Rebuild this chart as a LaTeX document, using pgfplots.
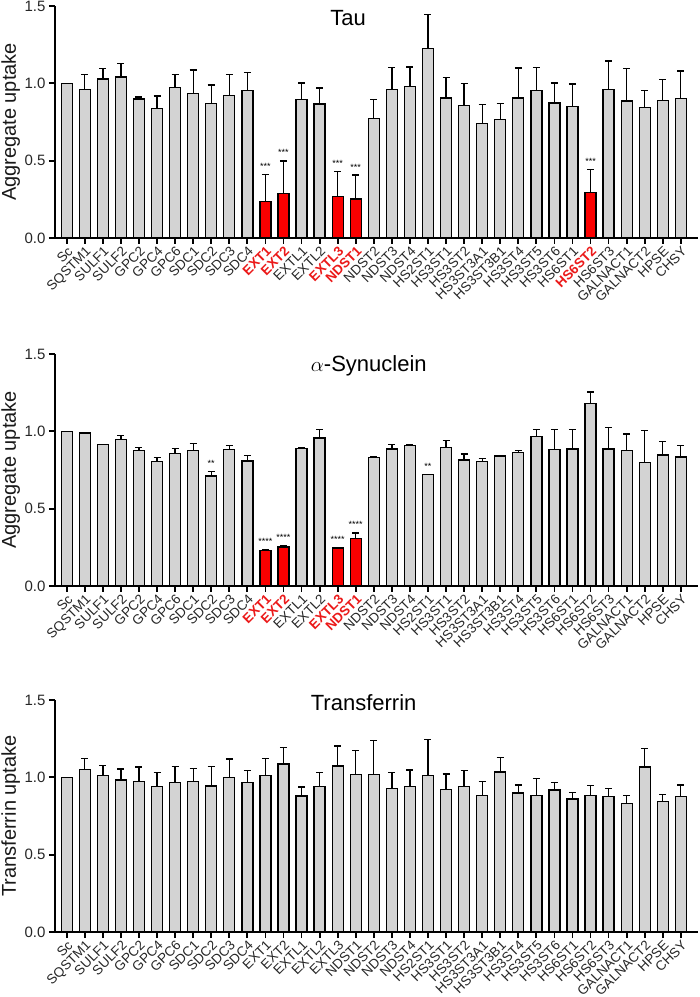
\documentclass[border=0pt]{standalone}
\usepackage{pgfplots}
\pgfplotsset{compat=1.18}
\usepackage{pgfplotstable}
\usepackage{fontspec}
\setmainfont{Liberation Sans}

\definecolor{bargray}{RGB}{211,211,211}
\definecolor{barred}{RGB}{250,0,0}
\definecolor{labred}{RGB}{235,25,25}

% ---- Tau ----
\pgfplotstableread{
x y err
0 1.000 0
1 0.961 0.097
2 1.028 0.069
3 1.041 0.088
4 0.899 0.013
5 0.838 0.080
6 0.972 0.084
7 0.933 0.153
8 0.869 0.120
9 0.922 0.134
10 0.953 0.118
13 0.897 0.105
14 0.866 0.104
17 0.774 0.120
18 0.959 0.142
19 0.981 0.125
20 1.224 0.222
21 0.905 0.134
22 0.858 0.142
23 0.741 0.123
24 0.765 0.106
25 0.905 0.194
26 0.953 0.150
27 0.873 0.129
28 0.849 0.147
30 0.959 0.185
31 0.886 0.211
32 0.845 0.108
33 0.888 0.138
34 0.903 0.177
}\tauGray
\pgfplotstableread{
x y err
11 0.235 0.177
12 0.287 0.211
15 0.267 0.162
16 0.252 0.155
29 0.293 0.149
}\tauRed
\pgfplotstableread{
x top lab
11 0.412 ***
12 0.498 ***
15 0.429 ***
16 0.407 ***
29 0.442 ***
}\tauStars

% ---- alpha-synuclein ----
\pgfplotstableread{
x y err
0 1.000 0
1 0.989 0.003
2 0.913 0
3 0.945 0.026
4 0.876 0.020
5 0.803 0.026
6 0.857 0.030
7 0.876 0.046
8 0.712 0.030
9 0.883 0.024
10 0.809 0.035
13 0.887 0.007
14 0.956 0.054
17 0.831 0.006
18 0.885 0.028
19 0.909 0.006
20 0.719 0.003
21 0.896 0.045
22 0.814 0.039
23 0.807 0.018
24 0.840 0.002
25 0.863 0.013
26 0.965 0.047
27 0.883 0.129
28 0.885 0.127
29 1.181 0.073
30 0.885 0.142
31 0.874 0.108
32 0.799 0.205
33 0.846 0.086
34 0.835 0.074
}\synGray
\pgfplotstableread{
x y err
11 0.229 0.004
12 0.253 0.006
15 0.246 0.004
16 0.309 0.034
}\synRed
\pgfplotstableread{
x top lab
8 0.742 **
11 0.233 ****
12 0.259 ****
15 0.250 ****
16 0.343 ****
20 0.722 **
}\synStars

% ---- Transferrin ----
\pgfplotstableread{
x y err
0 1.000 0
1 1.052 0.069
2 1.011 0.065
3 0.983 0.071
4 0.972 0.095
5 0.942 0.088
6 0.968 0.101
7 0.972 0.084
8 0.944 0.125
9 0.998 0.121
10 0.968 0.077
11 1.011 0.110
12 1.087 0.108
13 0.879 0.058
14 0.942 0.088
15 1.074 0.129
16 1.017 0.158
17 1.017 0.221
18 0.929 0.103
19 0.942 0.106
20 1.011 0.234
21 0.922 0.100
22 0.942 0.103
23 0.883 0.089
24 1.035 0.093
25 0.898 0.052
26 0.881 0.110
27 0.918 0.047
28 0.859 0.041
29 0.881 0.067
30 0.874 0.052
31 0.831 0.052
32 1.067 0.119
33 0.842 0.045
34 0.877 0.073
}\trfGray

\pgfplotsset{
  panel/.style={
    scale only axis, width=643pt, height=232pt,
    xmin=-0.65, xmax=34.95, ymin=0, ymax=1.5,
    axis x line*=bottom, axis y line*=left,
    axis line style={-, line width=1.8pt, black},
    tick align=outside, major tick length=6pt,
    tick style={line width=1.8pt, black},
    xtick={0,...,34},
    ytick={0,0.5,1,1.5},
    /pgf/number format/assume math mode=true,
    yticklabel style={/pgf/number format/fixed, /pgf/number format/fixed zerofill,
      /pgf/number format/precision=1},
    yticklabel style={font=\fontsize{15}{16}\selectfont, text=black!85},
    xticklabel style={rotate=45, anchor=north east, inner sep=1pt,
      font=\fontsize{13.5}{14}\selectfont, text=black!85},
    ylabel style={font=\fontsize{20}{22}\selectfont, text=black!90,
      at={(axis description cs:-0.069,0.5)}, anchor=center},
    title style={font=\fontsize{22}{24}\selectfont, anchor=base},
    clip=false,
  },
  barbase/.style={ybar, bar width=11pt, bar shift=0pt, draw=black, line width=1.3pt,
    error bars/y dir=plus, error bars/y explicit,
    error bars/error bar style={line width=1.3pt, black},
    error bars/error mark options={rotate=90, line width=1.3pt, mark size=3.5pt, black}},
  graybar/.style={barbase, fill=bargray},
  redbar/.style={barbase, fill=barred},
  stars/.style={draw=none, mark=none,
    nodes near coords, point meta=explicit symbolic,
    every node near coord/.append style={font=\fontsize{9}{9}\selectfont, anchor=base, yshift=5pt, black}},
}

\begin{document}
\begin{tikzpicture}[x=1pt, y=1pt]
\useasboundingbox (0,0) rectangle (700,997);

% Tau
\begin{axis}[panel, at={(55pt,759pt)}, anchor=south west,
  ylabel={Aggregate uptake},
  title={Tau}, title style={at={(axis description cs:0.456,0.888)}},
  xticklabels={Sc,SQSTM1,SULF1,SULF2,GPC2,GPC4,GPC6,SDC1,SDC2,SDC3,SDC4,
    \textcolor{labred}{\textbf{EXT1}},\textcolor{labred}{\textbf{EXT2}},EXTL1,EXTL2,
    \textcolor{labred}{\textbf{EXTL3}},\textcolor{labred}{\textbf{NDST1}},NDST2,NDST3,NDST4,HS2ST1,
    HS3ST1,HS3ST2,HS3ST3A1,HS3ST3B1,HS3ST4,HS3ST5,HS3ST6,HS6ST1,
    \textcolor{labred}{\textbf{HS6ST2}},HS6ST3,GALNACT1,GALNACT2,HPSE,CHSY}]
\addplot[graybar] table[x=x, y=y, y error=err] {\tauGray};
\addplot[redbar] table[x=x, y=y, y error=err] {\tauRed};
\addplot[stars] table[x=x, y=top, meta=lab] {\tauStars};
\end{axis}

% alpha-synuclein
\begin{axis}[panel, at={(55pt,411pt)}, anchor=south west,
  ylabel={Aggregate uptake},
  title={$\alpha$-Synuclein}, title style={at={(axis description cs:0.488,0.897)}},
  xticklabels={Sc,SQSTM1,SULF1,SULF2,GPC2,GPC4,GPC6,SDC1,SDC2,SDC3,SDC4,
    \textcolor{labred}{\textbf{EXT1}},\textcolor{labred}{\textbf{EXT2}},EXTL1,EXTL2,
    \textcolor{labred}{\textbf{EXTL3}},\textcolor{labred}{\textbf{NDST1}},NDST2,NDST3,NDST4,HS2ST1,
    HS3ST1,HS3ST2,HS3ST3A1,HS3ST3B1,HS3ST4,HS3ST5,HS3ST6,HS6ST1,
    HS6ST2,HS6ST3,GALNACT1,GALNACT2,HPSE,CHSY}]
\addplot[graybar] table[x=x, y=y, y error=err] {\synGray};
\addplot[redbar] table[x=x, y=y, y error=err] {\synRed};
\addplot[stars] table[x=x, y=top, meta=lab] {\synStars};
\end{axis}

% Transferrin
\begin{axis}[panel, at={(55pt,65pt)}, anchor=south west,
  ylabel={Transferrin uptake},
  title={Transferrin}, title style={at={(axis description cs:0.48,0.927)}},
  xticklabels={Sc,SQSTM1,SULF1,SULF2,GPC2,GPC4,GPC6,SDC1,SDC2,SDC3,SDC4,
    EXT1,EXT2,EXTL1,EXTL2,EXTL3,NDST1,NDST2,NDST3,NDST4,HS2ST1,
    HS3ST1,HS3ST2,HS3ST3A1,HS3ST3B1,HS3ST4,HS3ST5,HS3ST6,HS6ST1,
    HS6ST2,HS6ST3,GALNACT1,GALNACT2,HPSE,CHSY}]
\addplot[graybar] table[x=x, y=y, y error=err] {\trfGray};
\end{axis}
\end{tikzpicture}
\end{document}
